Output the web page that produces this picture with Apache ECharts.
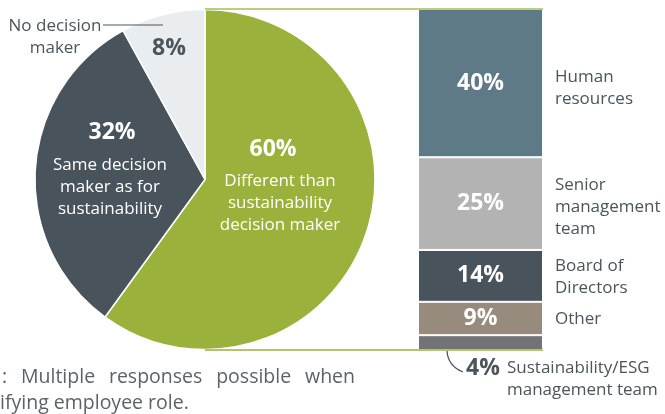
<!DOCTYPE html>
<html><head><meta charset="utf-8">
<script src="https://cdn.jsdelivr.net/npm/echarts@6/dist/echarts.min.js"></script>
<style>html,body{margin:0;padding:0;background:#fff;overflow:hidden}#c{width:665px;height:414px}</style>
</head><body><div id="c"></div>
<script>
// ---- data ----
const pieNames = ['Different than\nsustainability\ndecision maker', 'Same decision\nmaker as for\nsustainability', 'No decision\nmaker'];
const pieValues = [60, 32, 8];
const barNames = ['Human\nresources', 'Senior\nmanagement\nteam', 'Board of\nDirectors', 'Other', 'Sustainability/ESG\nmanagement team'];
const barValues = [40, 25, 14, 9, 4];
const footLine1 = [':', 'Multiple', 'responses', 'possible', 'when'];
const footLine2 = 'ifying employee role.';

// ---- styles ----
const pieColors = ['#9ab13c', '#48535b', '#e9edf0'];
const barColors = ['#5e7a87', '#b3b3b4', '#48535b', '#978b7d', '#727375'];
const txtDark = '#4b555c';
const FONT = '"Open Sans", Roboto, sans-serif';
const footFont = '19.5px ' + FONT;

const chart = echarts.init(document.getElementById('c'), null, {renderer: 'canvas'});

const pct = v => v + '%';
const total = barValues.reduce((a, b) => a + b, 0);

const barSeries = barValues.map((v, i) => ({
  type: 'bar', stack: 'all', name: barNames[i], data: [v],
  barWidth: '100%', silent: true,
  itemStyle: {color: barColors[i], borderColor: '#fff', borderWidth: 1},
  label: {show: i < 4, position: 'inside', formatter: pct(v), color: '#fff',
    fontFamily: FONT, fontWeight: 'bold', fontSize: 23}
}));

function t(text, x, y, opts) {
  return Object.assign({type: 'text', z: 20, silent: true,
    style: Object.assign({text: text, x: x, y: y, fill: txtDark, font: '17px ' + FONT,
      textAlign: 'center', textVerticalAlign: 'middle', lineHeight: 22}, opts || {})});
}
const boldFont = 'bold 23px ' + FONT;

// justify footnote first line between x=2 and x=355
const mctx = document.createElement('canvas').getContext('2d');
mctx.font = footFont;
const widths = footLine1.map(w => mctx.measureText(w).width);
const sumW = widths.reduce((a, b) => a + b, 0);
const gap = (355 - 2 - sumW) / (footLine1.length - 1);
const footX1 = [];
let cx = 2;
widths.forEach(w => { footX1.push(cx); cx += w + gap; });

const graphics = [
  // pie labels
  t(pct(pieValues[0]), 273, 149, {fill: '#fff', font: boldFont}),
  t(pieNames[0], 280, 203, {fill: '#fff'}),
  t(pct(pieValues[1]), 112, 132, {fill: '#fff', font: boldFont}),
  t(pieNames[1], 110, 187, {fill: '#fff'}),
  t(pct(pieValues[2]), 169, 48, {font: boldFont}),
  t(pieNames[2], 55, 37, {}),
  {type: 'line', z: 20, silent: true, shape: {x1: 103, y1: 25, x2: 163, y2: 25}, style: {stroke: txtDark, lineWidth: 1}},
  // connector lines
  {type: 'line', z: 20, silent: true, shape: {x1: 205, y1: 9, x2: 543, y2: 9}, style: {stroke: '#a7bd55', lineWidth: 1.5}},
  {type: 'line', z: 20, silent: true, shape: {x1: 205, y1: 350, x2: 543, y2: 350}, style: {stroke: '#9ab13c', lineWidth: 1.5}},
  // right labels
  t(barNames[0], 555, 88, {textAlign: 'left'}),
  t(barNames[1], 555, 207, {textAlign: 'left'}),
  t(barNames[2], 555, 277.5, {textAlign: 'left'}),
  t(barNames[3], 555, 319, {textAlign: 'left'}),
  // 4% callout
  {type: 'bezierCurve', z: 20, silent: true, shape: {x1: 447, y1: 351, cpx1: 448, cpy1: 366, x2: 463, y2: 372}, style: {stroke: txtDark, lineWidth: 1.3, fill: null}},
  t(pct(barValues[4]), 483, 368, {font: boldFont}),
  t(barNames[4], 507, 379.5, {textAlign: 'left'}),
  // footnote
  ...footLine1.map((w, i) => t(w, footX1[i], 377, {textAlign: 'left', fill: '#5b636a', font: footFont})),
  t(footLine2, 0, 403, {textAlign: 'left', fill: '#5b636a', font: footFont})
];

chart.setOption({
  animation: false,
  backgroundColor: '#fff',
  grid: {left: 418, top: 9, width: 125, height: 341},
  xAxis: {type: 'category', data: [''], show: false},
  yAxis: {type: 'value', min: 0, max: total, inverse: true, show: false},
  series: [
    {type: 'pie', center: [205, 179.5], radius: [0, 170], startAngle: 90, clockwise: true,
      silent: true, label: {show: false}, labelLine: {show: false},
      itemStyle: {borderColor: '#fff', borderWidth: 1.5},
      data: pieValues.map((v, i) => ({value: v, name: pieNames[i], itemStyle: {color: pieColors[i]}}))},
    ...barSeries
  ],
  graphic: graphics
});
</script></body></html>
